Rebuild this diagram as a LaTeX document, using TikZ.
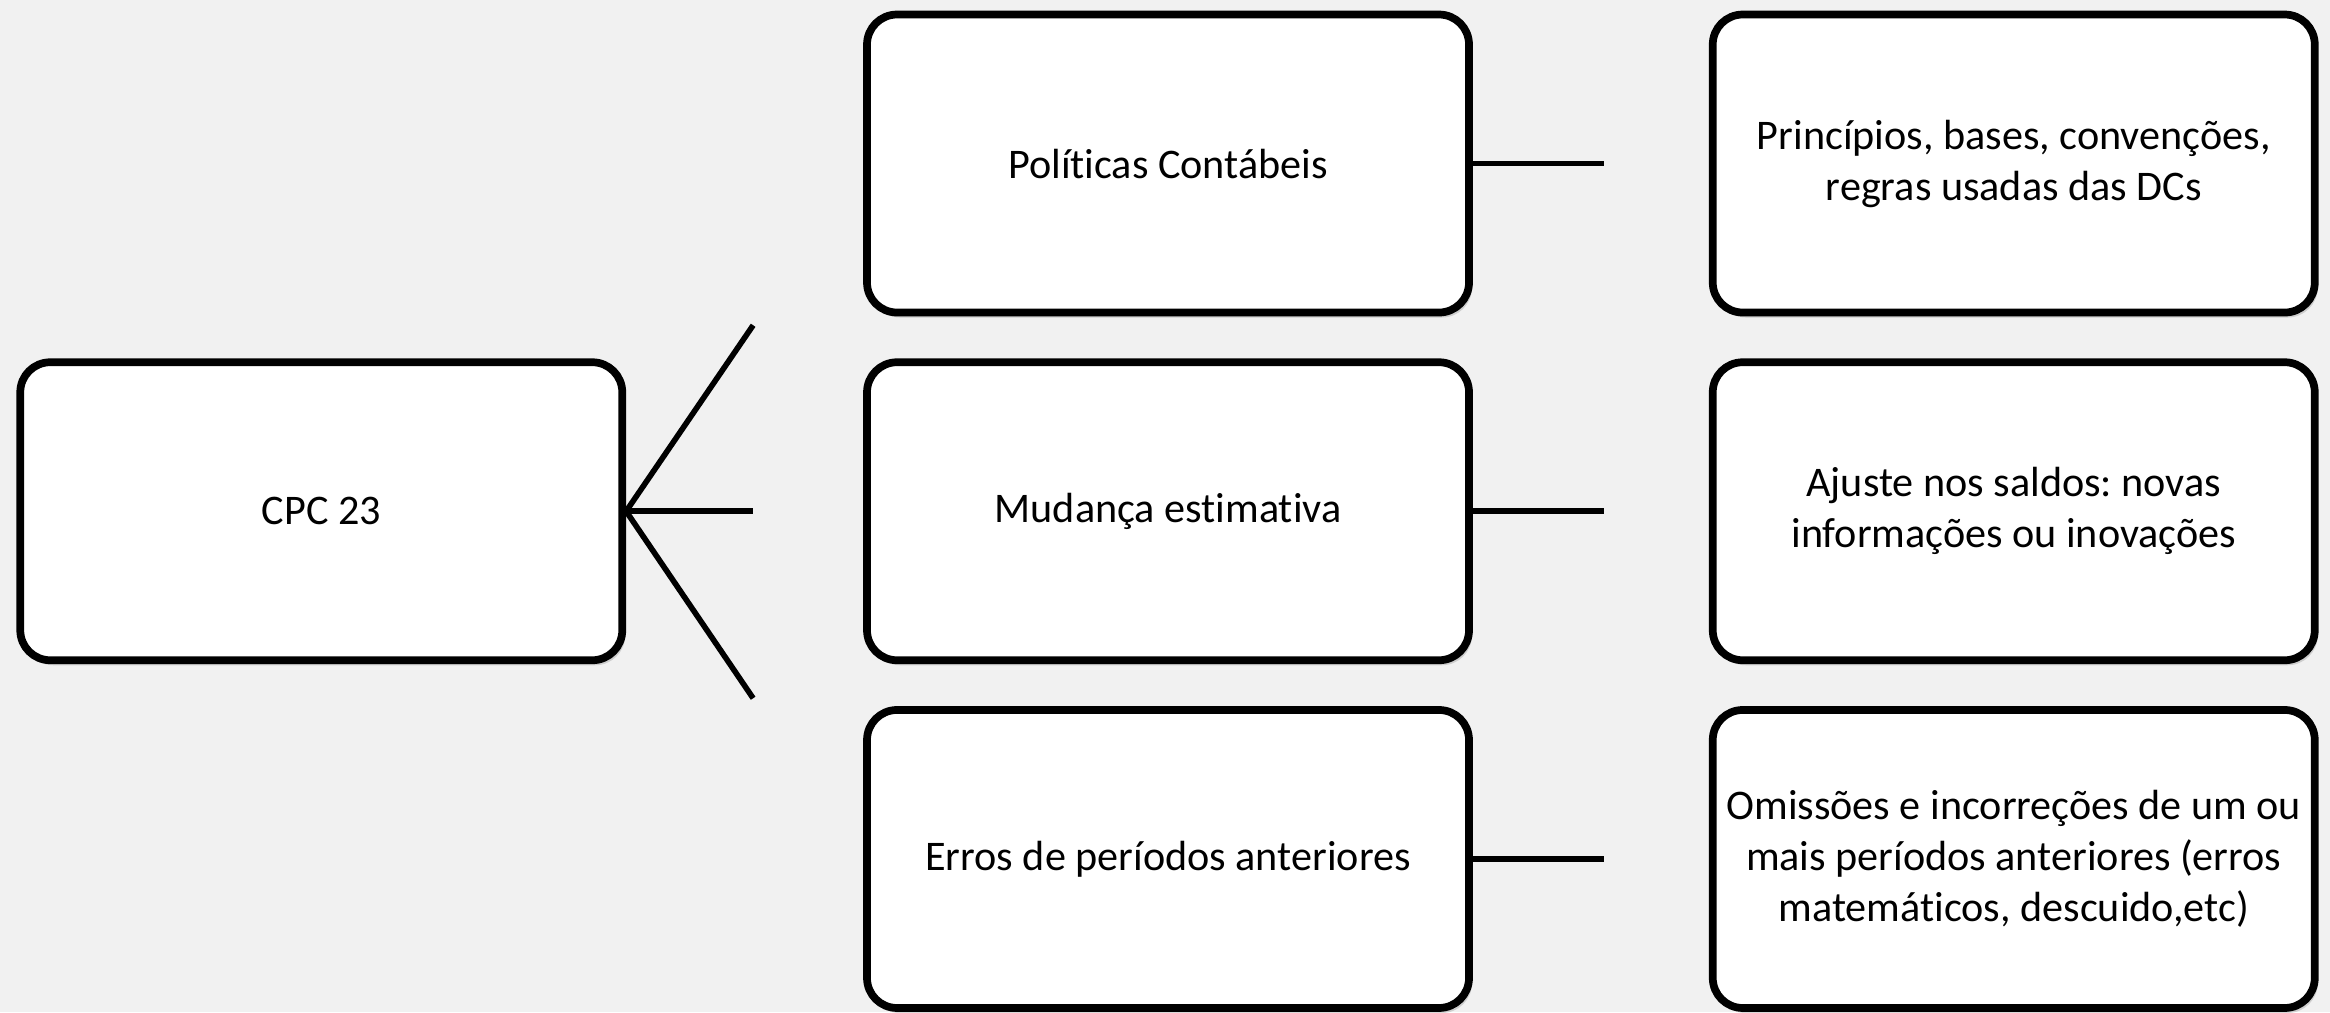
\documentclass[tikz,border=0pt]{standalone}
\usepackage{fontspec}
\setmainfont[Ligatures=NoCommon]{Carlito}
\usetikzlibrary{positioning,shadows}
\definecolor{bgpaper}{HTML}{F1F1F1}
\frenchspacing

\begin{document}
\begin{tikzpicture}[
      box/.style={draw, line width=2.2pt, rounded corners=0.3cm, fill=white,
          minimum width=6.02cm, minimum height=2.98cm, align=center,
          font=\fontsize{12}{14.5}\selectfont,
          drop shadow={opacity=0.3, shadow xshift=0.03cm, shadow yshift=-0.05cm}},
      link/.style={line width=1.6pt}]

      \fill[bgpaper] (0,0) rectangle (23.3,-10.12);
      \useasboundingbox (0,0) rectangle (23.3,-10.12);

      \node[box] (pol) at (11.68,-1.635) {Políticas Contábeis};
      \node[box, below=0.42cm of pol] (mud) {Mudança estimativa};
      \node[box, below=0.42cm of mud] (err) {Erros de períodos anteriores};

      \node[box, left=2.37cm of mud] (cpc) {CPC 23};

      \node[box, right=2.36cm of pol] (princ) {Princípios, bases, convenções,\\regras usadas das DCs};
      \node[box, right=2.36cm of mud] (ajuste) {Ajuste nos saldos: novas\\informações ou inovações};
      \node[box, right=2.36cm of err] (omis) {Omissões e incorreções de um ou\\mais períodos anteriores (erros\\matemáticos, descuido,etc)};

      \coordinate (fanup) at ([xshift=1.27cm, yshift=1.86cm]cpc.east);
      \coordinate (fanmid) at ([xshift=1.27cm]cpc.east);
      \coordinate (fanlow) at ([xshift=1.27cm, yshift=-1.87cm]cpc.east);

      \foreach \e in {fanup, fanmid, fanlow}
          \draw[link] (cpc.east) -- (\e);

      \foreach \n in {pol, mud, err}
          \draw[link] (\n.east) -- ++(1.31,0);
\end{tikzpicture}
\end{document}
